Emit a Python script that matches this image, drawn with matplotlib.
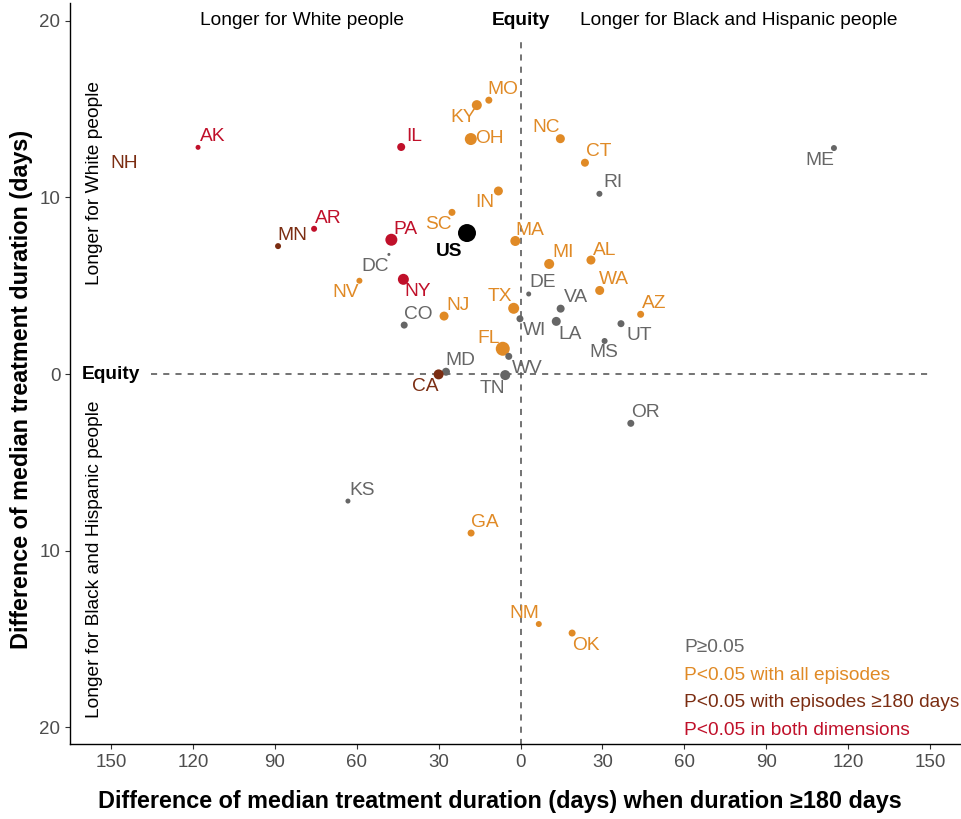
import numpy as np
import matplotlib.pyplot as plt

plt.rcParams['font.family'] = ['Liberation Sans', 'DejaVu Sans']

# difference of median duration, episodes >=180 days (x) and all episodes (y)
states = ['AK', 'NH', 'IL', 'KY', 'MO', 'OH', 'IN', 'SC', 'AR', 'MN', 'PA', 'DC',
          'NV', 'NY', 'CO', 'NJ', 'TX', 'FL', 'MD', 'CA', 'NC', 'CT', 'RI', 'ME',
          'MA', 'MI', 'AL', 'DE', 'WA', 'VA', 'AZ', 'WI', 'LA', 'UT', 'MS', 'WV',
          'TN', 'OR', 'KS', 'GA', 'NM', 'OK']
x_diff = [-118.1, -172.0, -43.7, -16.0, -11.6, -18.2, -8.1, -25.1, -75.6, -88.8, -47.3, -48.2,
          -59.0, -42.9, -42.6, -28.0, -2.5, -6.5, -27.3, -30.0, 14.6, 23.6, 28.9, 114.8,
          -1.9, 10.5, 25.8, 3.0, 29.0, 14.7, 44.0, -0.2, 13.1, 36.8, 30.8, -4.3,
          -5.6, 40.4, -63.2, -18.1, 6.7, 18.9]
y_diff = [12.83, 12.4, 12.85, 15.22, 15.5, 13.3, 10.36, 9.15, 8.22, 7.24, 7.6, 6.77,
          5.28, 5.36, 2.77, 3.28, 3.72, 1.43, 0.13, -0.02, 13.32, 11.96, 10.2, 12.79,
          7.53, 6.23, 6.45, 4.53, 4.73, 3.7, 3.38, 3.13, 2.98, 2.85, 1.87, 1.0,
          -0.06, -2.79, -7.19, -9.0, -14.15, -14.66]
# dot diameter (px), roughly the number of episodes
dot_px = [5, 6, 8, 10, 7, 12, 9, 7, 6, 6, 12, 3,
          6, 11, 7, 9, 11, 14, 8, 10, 9, 8, 6, 6,
          10, 10, 9, 5, 9, 8, 7, 7, 9, 7, 6, 7,
          10, 7, 5, 7, 6, 7]
# 0: P>=0.05, 1: all episodes, 2: episodes >=180 days, 3: both
group = [3, 2, 3, 1, 1, 1, 1, 1, 3, 2, 3, 0,
         1, 3, 0, 1, 1, 1, 0, 2, 1, 1, 0, 0,
         1, 1, 1, 0, 1, 0, 1, 0, 0, 0, 0, 0,
         0, 0, 0, 1, 1, 1]
us_x, us_y = -19.6, 7.98

legend_labels = ['P\u22650.05', 'P<0.05 with all episodes',
                 'P<0.05 with episodes \u2265180 days', 'P<0.05 in both dimensions']
colors = ['#666666', '#E08A26', '#7B2D12', '#C0102A']

x_ticks = [-150, -120, -90, -60, -30, 0, 30, 60, 90, 120, 150]
y_ticks = [-20, -10, 0, 10, 20]

# label offsets in pixels (right, down)
label_off = {
    'AK': (15, -11), 'NH': (0, 0), 'IL': (13, -10), 'KY': (-14, 12), 'MO': (14, -11),
    'OH': (19, -1), 'IN': (-14, 12), 'SC': (-14, 12), 'AR': (14, -10), 'MN': (14, -11),
    'PA': (14, -10), 'DC': (-14, 12), 'NV': (-14, 12), 'NY': (14, 12), 'CO': (14, -11),
    'NJ': (14, -11), 'TX': (-14, -12), 'FL': (-14, -10), 'MD': (14, -11), 'CA': (-13, 12),
    'NC': (-14, -11), 'CT': (14, -11), 'RI': (14, -11), 'ME': (-14, 12), 'MA': (14, -10),
    'MI': (14, -11), 'AL': (14, -10), 'DE': (14, -11), 'WA': (14, -11), 'VA': (15, -11),
    'AZ': (14, -11), 'WI': (15, 12), 'LA': (14, 13), 'UT': (18, 12), 'MS': (-1, 12),
    'WV': (19, 12), 'TN': (-13, 13), 'OR': (15, -11), 'KS': (14, -11), 'GA': (14, -11),
    'NM': (-14, -11), 'OK': (14, 12),
}

fs = 13.8

fig = plt.figure(figsize=(9.62, 8.19), dpi=100)
ax = fig.add_axes([70 / 962, 75 / 819, 892 / 962, 741 / 819])
ax.set_xlim(-165, 161.7)
ax.set_ylim(-20.94, 21.0)

line_col = '#4d4d4d'
ax.plot([0, 0], [-21, 19], ls=(0, (4, 4)), color=line_col, lw=1.1, zorder=1)
ax.plot([-135.5, 150], [0, 0], ls=(0, (4, 4)), color=line_col, lw=1.1, zorder=1)

for i, st in enumerate(states):
    c = colors[group[i]]
    s = (dot_px[i] * 0.72) ** 2
    ax.scatter(x_diff[i], y_diff[i], s=s, color=c, edgecolors='none', zorder=3)
    if st == 'NH':
        # point is off the panel, only the label shows
        ax.text(-145, 11.9, st, color=c, fontsize=fs, ha='center', va='center')
        continue
    dx, dy = label_off[st]
    ax.annotate(st, (x_diff[i], y_diff[i]), xytext=(dx * 0.72, -dy * 0.72),
                textcoords='offset points', color=c, fontsize=fs,
                ha='center', va='center', zorder=4)

ax.scatter(us_x, us_y, s=(18 * 0.72) ** 2, color='black', edgecolors='none', zorder=3)
ax.annotate('US', (us_x, us_y), xytext=(-18 * 0.72, -18 * 0.72), textcoords='offset points',
            fontsize=fs, fontweight='bold', ha='center', va='center', zorder=4)

# quadrant notes
ax.text(-80, 20, 'Longer for White people', fontsize=fs, ha='center', va='center')
ax.text(0, 20, 'Equity', fontsize=fs, fontweight='bold', ha='center', va='center')
ax.text(80, 20, 'Longer for Black and Hispanic people', fontsize=fs, ha='center', va='center')
ax.text(-150, 0, 'Equity', fontsize=fs, fontweight='bold', ha='center', va='center')
ax.text(-156, 10.8, 'Longer for White people', fontsize=fs, rotation=90,
        ha='center', va='center')
ax.text(-156, -10.5, 'Longer for Black and Hispanic people', fontsize=fs, rotation=90,
        ha='center', va='center')

for k, lab in enumerate(legend_labels):
    ax.text(60, -15.5 - 1.55 * k, lab, color=colors[k], fontsize=fs, ha='left', va='center')

ax.set_xticks(x_ticks)
ax.set_xticklabels([str(abs(v)) for v in x_ticks])
ax.set_yticks(y_ticks)
ax.set_yticklabels([str(abs(v)) for v in y_ticks])
ax.tick_params(colors='#333333', labelcolor='#4d4d4d', labelsize=13.5, length=3.5, width=0.8)
for side in ['top', 'right']:
    ax.spines[side].set_visible(False)
for side in ['left', 'bottom']:
    ax.spines[side].set_linewidth(1.0)

ax.set_xlabel('Difference of median treatment duration (days) when duration \u2265180 days',
              fontsize=16.8, fontweight='bold')
ax.set_ylabel('Difference of median treatment duration (days)', fontsize=16.8,
              fontweight='bold')
ax.xaxis.set_label_coords(0.482, -0.078)
ax.yaxis.set_label_coords(-0.054, 0.479)
ax.xaxis.label.set_va('center')
ax.yaxis.label.set_va('center')

fig.savefig('out.png', dpi=100)
